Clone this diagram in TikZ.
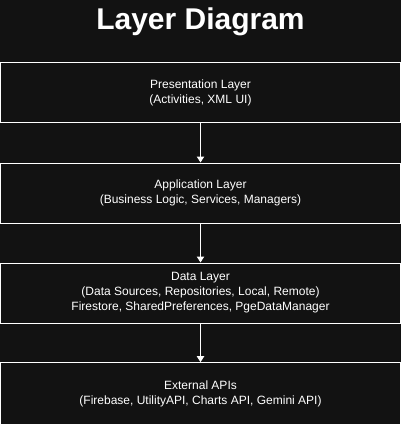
\documentclass[tikz,border=0pt]{standalone}
\usepackage{fontspec}
\setmainfont{Liberation Sans}
\usetikzlibrary{arrows.meta}
\definecolor{bgdark}{HTML}{121212}
\begin{document}
\begin{tikzpicture}[x=0.75pt, y=-0.75pt, font=\fontsize{9}{11.25}\selectfont,
  layer/.style={draw=white, line width=0.75pt, text=white, align=center,
    minimum width=300pt, minimum height=45pt, inner sep=0pt},
  flow/.style={-{Triangle[width=5.5pt,length=4.5pt]}, draw=white, line width=0.75pt}]
\fill[bgdark] (0,0) rectangle (401,424);
\useasboundingbox (0,0) rectangle (401,424);
\clip (0,0) rectangle (401,424);
\node[font=\fontsize{22.5}{27}\selectfont\bfseries, text=white, anchor=base] (title) at (200.5,30) {Layer Diagram};
% layers, top to bottom
\node[layer] (pres) at (200.5,93) {Presentation Layer\\(Activities, XML UI)};
\node[layer] (app) at (200.5,193) {Application Layer\\(Business Logic, Services, Managers)};
\node[layer] (data) at (200.5,293) {Data Layer\\(Data Sources, Repositories, Local, Remote)\\Firestore, SharedPreferences, PgeDataManager};
\node[layer, minimum height=47pt] (ext) at (200.5,394) {External APIs\\(Firebase, UtilityAPI, Charts API, Gemini API)};
% arrows between layers
\foreach \a/\b in {pres/app, app/data, data/ext} {
  \draw[flow] (\a) -- (\b);
}
\end{tikzpicture}
\end{document}
